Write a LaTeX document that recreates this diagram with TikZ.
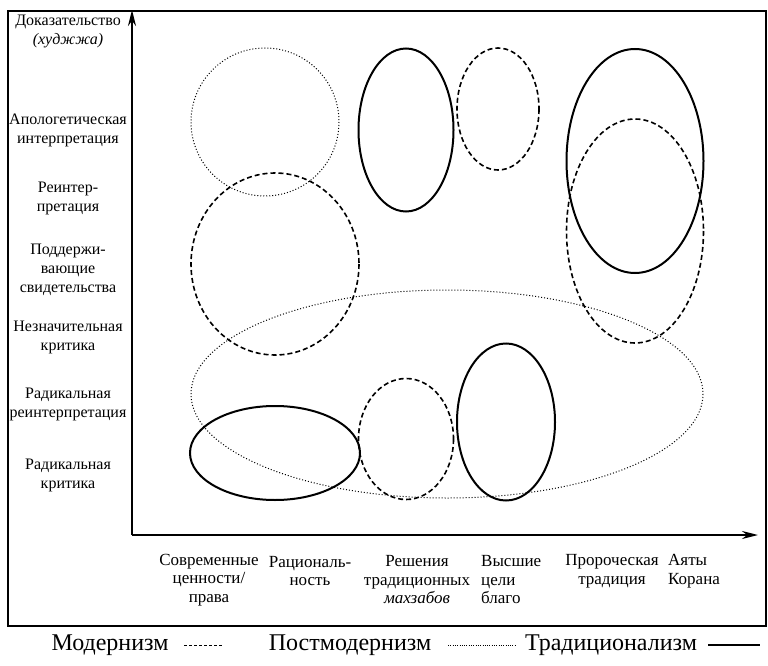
\documentclass[tikz,border=0pt]{standalone}
\usepackage{fontspec}
\setmainfont{Liberation Serif}
\usetikzlibrary{arrows.meta}

\begin{document}
\begin{tikzpicture}[x=1pt,y=-1pt,
  ylab/.style={align=center,font=\fontsize{16}{19}\selectfont,inner sep=0pt},
  xlab/.style={align=center,font=\fontsize{17}{18.5}\selectfont,inner sep=0pt},
  leg/.style={font=\fontsize{24}{27}\selectfont,inner sep=0pt},
  axis/.style={line width=2pt,-{Stealth[length=16pt,width=8pt]}},
  modern/.style={line width=1.6pt,dash pattern=on 5pt off 3pt},
  postmod/.style={line width=1pt,dash pattern=on 1pt off 2pt},
  trad/.style={line width=2pt}]
\useasboundingbox (0,0) rectangle (768,666);
\draw[line width=1.8pt] (8,11) rectangle (766,626);
% axes
\coordinate (o) at (132,535);
\coordinate (ytip) at (132,10);
\coordinate (xtip) at (758,535);
\draw[axis] (o) -- (ytip);
\draw[axis] (o) -- (xtip);
% vertical scale
\foreach \txt/\ypos [count=\i] in {{Доказательство\\\textit{(худжжа)}}/31,
  {Апологетическая\\интерпретация}/130,{Реинтер-\\претация}/198,
  {Поддержи-\\вающие\\свидетельства}/270,{Незначительная\\критика}/337,
  {Радикальная\\реинтерпретация}/404,{Радикальная\\критика}/475}
  {\node[ylab] (y\i) at (68,\ypos) {\txt};}
% horizontal scale
\node[xlab] (x1) at (209,580) {Современные\\ценности/\\права};
\node[xlab] (x2) at (310,571) {Рациональ-\\ность};
\node[xlab] (x3) at (417,580) {Решения\\традиционных\\\textit{махзабов}};
\node[xlab,align=left,anchor=west] (x4) at (481,580) {Высшие\\цели\\благо};
\node[xlab] (x5) at (612,571) {Пророческая\\традиция};
\node[xlab,align=left,anchor=west] (x6) at (668,571) {Аяты\\Корана};
% areas
\foreach \cx/\cy/\rx/\ry in {265/122/74/74,447/394/256/104}
  {\draw[postmod] (\cx,\cy) ellipse ({\rx} and {\ry});}
\foreach \cx/\cy/\rx/\ry in {275/264/84/91,498/109/41/61,635/231/68.5/112,406/439/47.5/60.5}
  {\draw[modern] (\cx,\cy) ellipse ({\rx} and {\ry});}
\foreach \cx/\cy/\rx/\ry in {406/130/47.5/81.5,635/161/68.5/112,275/453/85/47,506/422/49/78.5}
  {\draw[trad] (\cx,\cy) ellipse ({\rx} and {\ry});}
% legend
\node[leg] (lmod) at (110,645) {Модернизм};
\node[leg] (lpost) at (350,645) {Постмодернизм};
\node[leg] (ltrad) at (611,645) {Традиционализм};
\coordinate (m1) at (184,645); \coordinate (m2) at (223,645);
\coordinate (p1) at (448,645); \coordinate (p2) at (515,645);
\coordinate (t1) at (708,645); \coordinate (t2) at (760,645);
\draw[line width=1pt,dash pattern=on 3pt off 2pt] (m1) -- (m2);
\draw[line width=0.8pt,dash pattern=on 0.8pt off 1.5pt] (p1) -- (p2);
\draw[line width=1.8pt] (t1) -- (t2);
\end{tikzpicture}
\end{document}
